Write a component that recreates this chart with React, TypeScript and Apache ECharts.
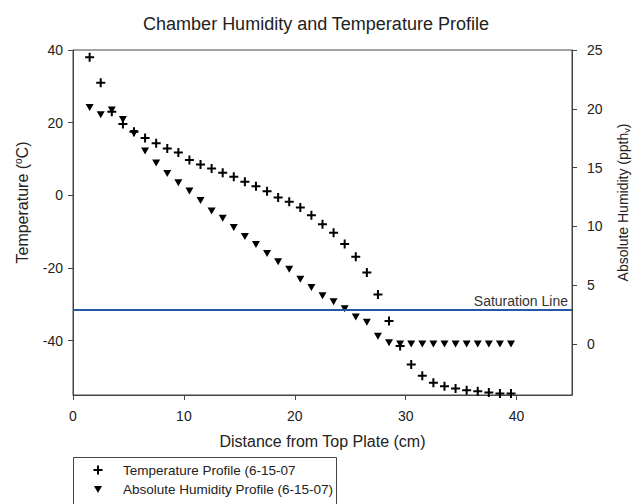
import React, { useEffect, useRef } from "react";
import * as echarts from "echarts";

const distanceCm = [
  1.5, 2.5, 3.5, 4.5, 5.5, 6.5, 7.5, 8.5, 9.5, 10.5, 11.5, 12.5, 13.5, 14.5, 15.5,
  16.5, 17.5, 18.5, 19.5, 20.5, 21.5, 22.5, 23.5, 24.5, 25.5, 26.5, 27.5, 28.5,
  29.5, 30.5, 31.5, 32.5, 33.5, 34.5, 35.5, 36.5, 37.5, 38.5, 39.5,
];

const temperatureC = [
  38.0, 31.0, 23.0, 19.6, 17.5, 15.8, 14.3, 12.9, 11.8, 9.7, 8.5, 7.4, 6.2, 5.1, 3.7,
  2.5, 1.1, -0.6, -1.8, -3.4, -5.5, -8.0, -10.3, -13.4, -16.9, -21.3, -27.3, -34.6,
  -41.5, -46.6, -49.7, -51.6, -52.6, -53.2, -53.7, -54.0, -54.3, -54.6, -54.6,
];

const humidityPpth = [
  20.1, 19.5, 19.9, 19.1, 17.9, 16.4, 15.4, 14.5, 13.7, 13.0, 12.2, 11.3, 10.7, 9.9, 9.15,
  8.45, 7.7, 7.0, 6.35, 5.5, 4.8, 4.1, 3.6, 3.0, 2.3, 1.85, 0.65, 0.1,
  0, 0, 0, 0, 0, 0, 0, 0, 0, 0, 0,
];

const saturationLevel = 2.9;

const tempTicks = [-40, -20, 0, 20, 40];
const humidityTicks = [0, 5, 10, 15, 20, 25];

const seriesNames = ["Temperature Profile (6-15-07", "Absolute Humidity Profile (6-15-07)"];

const FONT = "'Liberation Sans', Arial, sans-serif";
const PLUS = "path://M3.5,0 H5.5 V3.5 H9 V5.5 H5.5 V9 H3.5 V5.5 H0 V3.5 H3.5 Z";
const TRI_DOWN = "path://M0,0 L8,0 L4,7 Z";

function plusPoints(cx: number, cy: number) {
  const a = 4.5, b = 1;
  return [
    [cx - b, cy - a], [cx + b, cy - a], [cx + b, cy - b], [cx + a, cy - b],
    [cx + a, cy + b], [cx + b, cy + b], [cx + b, cy + a], [cx - b, cy + a],
    [cx - b, cy + b], [cx - a, cy + b], [cx - a, cy - b], [cx - b, cy - b],
  ];
}

export default function App() {
  const ref = useRef<HTMLDivElement>(null);

  useEffect(() => {
    if (!ref.current) return;
    const chart = echarts.init(ref.current, undefined, { renderer: "svg" });
    const tempData = distanceCm.map((d, i) => [d, temperatureC[i]]);
    const humData = distanceCm.map((d, i) => [d, humidityPpth[i]]);
    const axisLine = { show: true, onZero: false, lineStyle: { color: "#444", width: 1 } };
    const axisTick = { show: true, inside: false, length: 5, lineStyle: { color: "#444" } };
    const axisLabel = { color: "#222", fontSize: 14, fontFamily: FONT };

    chart.setOption({
      animation: false,
      backgroundColor: "#fff",
      textStyle: { fontFamily: FONT },
      title: {
        text: "Chamber Humidity and Temperature Profile",
        left: "center",
        top: 10,
        textStyle: { fontSize: 18, fontWeight: "normal", color: "#222", fontFamily: FONT },
      },
      grid: {
        left: 73,
        top: 50,
        right: 60,
        bottom: 109,
        show: true,
        borderColor: "#444",
        borderWidth: 1,
        containLabel: false,
        outerBoundsMode: "none",
      },
      graphic: [
        {
          type: "rect",
          shape: { x: 73.5, y: 457.5, width: 263, height: 70 },
          style: { fill: "#fff", stroke: "#444", lineWidth: 1 },
          z: 10,
        },
        {
          type: "polygon",
          shape: { points: plusPoints(98, 470) },
          style: { fill: "#000" },
          z: 11,
        },
        {
          type: "polygon",
          shape: { points: [[94, 486], [102, 486], [98, 493]] },
          style: { fill: "#000" },
          z: 11,
        },
        {
          type: "text",
          x: 123,
          y: 470,
          style: {
            text: seriesNames[0],
            fill: "#222",
            font: `13.5px ${FONT}`,
            verticalAlign: "middle",
          },
          z: 11,
        },
        {
          type: "text",
          x: 123,
          y: 489,
          style: {
            text: seriesNames[1],
            fill: "#222",
            font: `13.5px ${FONT}`,
            verticalAlign: "middle",
          },
          z: 11,
        },
      ],
      xAxis: {
        type: "value",
        min: 0,
        max: 45,
        interval: 10,
        name: "Distance from Top Plate (cm)",
        nameLocation: "middle",
        nameGap: 38,
        nameTextStyle: { fontSize: 16, color: "#222", fontFamily: FONT },
        axisLine,
        axisTick,
        axisLabel: { ...axisLabel, margin: 14, showMaxLabel: false },
        splitLine: { show: false },
      },
      yAxis: [
        {
          type: "value",
          min: -55,
          max: 40,
          position: "left",
          name: "Temperature ({sup|o}C)",
          nameLocation: "middle",
          nameGap: 42,
          nameTextStyle: {
            fontSize: 16,
            color: "#222",
            fontFamily: FONT,
            padding: [0, 0, 0, 40],
            rich: { sup: { fontSize: 10, color: "#222", verticalAlign: "top", lineHeight: 18 } },
          },
          axisLine,
          axisTick: { ...axisTick, customValues: tempTicks },
          axisLabel: { ...axisLabel, margin: 10, customValues: tempTicks },
          splitLine: { show: false },
        },
        {
          type: "value",
          min: -4.34,
          max: 25,
          position: "right",
          name: "Absolute Humidity (ppth{sub|v})",
          nameLocation: "middle",
          nameGap: 43,
          nameMoveOverlap: false,
          nameTextStyle: {
            fontSize: 14,
            color: "#222",
            fontFamily: FONT,
            padding: [0, 0, 0, 40],
            rich: { sub: { fontSize: 9, color: "#222", verticalAlign: "bottom", lineHeight: 16 } },
          },
          axisLine,
          axisTick: { ...axisTick, customValues: humidityTicks },
          axisLabel: { ...axisLabel, margin: 15, customValues: humidityTicks },
          splitLine: { show: false },
        },
      ],
      series: [
        {
          name: seriesNames[0],
          type: "scatter",
          yAxisIndex: 0,
          symbol: PLUS,
          symbolSize: 9,
          itemStyle: { color: "#000", opacity: 1 },
          data: tempData,
          z: 3,
        },
        {
          name: seriesNames[1],
          type: "scatter",
          yAxisIndex: 1,
          symbol: TRI_DOWN,
          symbolSize: [8, 7],
          itemStyle: { color: "#000", opacity: 1 },
          data: humData,
          z: 3,
          markLine: {
            silent: true,
            symbol: "none",
            lineStyle: { color: "#2457a8", width: 2, type: "solid" },
            label: {
              show: true,
              position: "insideEndTop",
              formatter: "Saturation Line",
              color: "#333",
              fontSize: 14,
              fontFamily: FONT,
              distance: [4, 2],
            },
            data: [{ yAxis: saturationLevel }],
          },
        },
      ],
    });
    return () => chart.dispose();
  }, []);

  return (
    <div
      ref={ref}
      style={{ position: "absolute", left: 0, top: 0, width: 632, height: 504, background: "#fff" }}
    />
  );
}
